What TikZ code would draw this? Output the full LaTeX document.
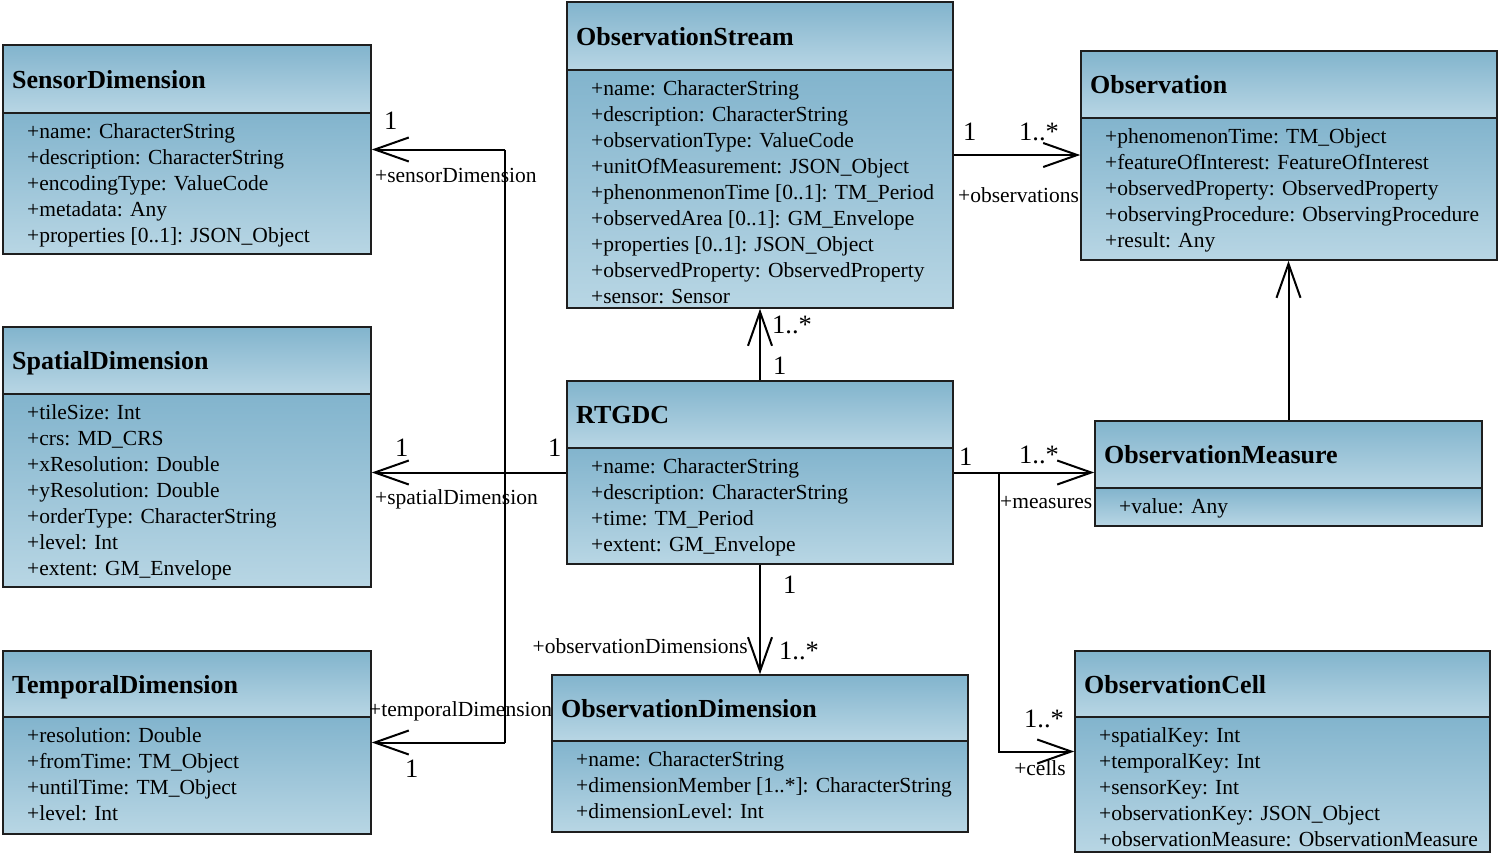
\documentclass[tikz,border=0pt]{standalone}
\usepackage{fontspec}
\setmainfont{Liberation Serif}
\usetikzlibrary{arrows.meta,fit,calc}
\definecolor{gtop}{RGB}{130,180,205}
\definecolor{gbot}{RGB}{184,214,228}
\definecolor{edge}{RGB}{30,30,30}
\tikzset{
 frame/.style={draw=edge, line width=1.6pt, inner sep=0pt},
 divline/.style={draw=edge, line width=1.6pt},
 titlefont/.style={font=\fontsize{26}{30}\selectfont\bfseries, inner sep=0pt},
 attrfont/.style={font=\fontsize{21.5}{26}\selectfont, inner sep=0pt},
 lbl/.style={font=\fontsize{21.5}{26}\selectfont, inner sep=0pt},
 mult/.style={font=\fontsize{26.5}{30}\selectfont, inner sep=0pt},
 conn/.style={line width=2pt, draw=black},
 nav/.style={conn, -{Straight Barb[length=34pt,width=24pt,line width=2pt]}},
}
\newcommand\umlclass[8]{%
  \shade[top color=gtop,bottom color=gbot] (#2,#3) rectangle (#4,#5);
  \shade[top color=gtop,bottom color=gbot] (#2,#5) rectangle (#4,#6);
  \draw[divline] (#2,#5) -- (#4,#5);
  \node[frame, fit={(#2,#3) (#4,#6)}] (#1) {};
  \pgfmathsetmacro\tbase{(#3+#5)/2+9}
  \node[titlefont, anchor=base west] (#1-title) at (#2+9,\tbase) {#7};
  \node[attrfont, anchor=base west] (#1-attrs) at (#2+24,#5+25) {\begin{tabular}[t]{@{}l@{}}#8\end{tabular}};
}
\begin{document}
\begin{tikzpicture}[x=1pt,y=-1pt]
\useasboundingbox (0,0) rectangle (1500,854);

\umlclass{sensor}{3}{45}{371}{113}{254}{SensorDimension}{%
+name: CharacterString\\+description: CharacterString\\+encodingType: ValueCode\\+metadata: Any\\+properties [0..1]: JSON\_Object}

\umlclass{spatial}{3}{327}{371}{394}{587}{SpatialDimension}{%
+tileSize: Int\\+crs: MD\_CRS\\+xResolution: Double\\+yResolution: Double\\+orderType: CharacterString\\+level: Int\\+extent: GM\_Envelope}

\umlclass{temporal}{3}{651}{371}{717}{834}{TemporalDimension}{%
+resolution: Double\\+fromTime: TM\_Object\\+untilTime: TM\_Object\\+level: Int}

\umlclass{stream}{567}{2}{953}{70}{308}{ObservationStream}{%
+name: CharacterString\\+description: CharacterString\\+observationType: ValueCode\\+unitOfMeasurement: JSON\_Object\\+phenonmenonTime [0..1]: TM\_Period\\+observedArea [0..1]: GM\_Envelope\\+properties [0..1]: JSON\_Object\\+observedProperty: ObservedProperty\\+sensor: Sensor}

\umlclass{obs}{1081}{51}{1497}{118}{260}{Observation}{%
+phenomenonTime: TM\_Object\\+featureOfInterest: FeatureOfInterest\\+observedProperty: ObservedProperty\\+observingProcedure: ObservingProcedure\\+result: Any}

\umlclass{rtgdc}{567}{381}{953}{448}{564}{RTGDC}{%
+name: CharacterString\\+description: CharacterString\\+time: TM\_Period\\+extent: GM\_Envelope}

\umlclass{measure}{1095}{421}{1482}{488}{526}{ObservationMeasure}{%
+value: Any}

\umlclass{odim}{552}{675}{968}{741}{832}{ObservationDimension}{%
+name: CharacterString\\+dimensionMember [1..*]: CharacterString\\+dimensionLevel: Int}

\umlclass{cell}{1075}{651}{1490}{717}{852}{ObservationCell}{%
+spatialKey: Int\\+temporalKey: Int\\+sensorKey: Int\\+observationKey: JSON\_Object\\+observationMeasure: ObservationMeasure}

% bus coordinates
\coordinate (bx) at (505,0);
\coordinate (bx2) at (999,0);

% RTGDC -> dimensions (left side)
\draw[nav] (rtgdc.west) -- (rtgdc.west -| spatial.east);
\draw[conn] (sensor.east -| bx) -- (temporal.east -| bx);
\draw[nav] (sensor.east -| bx) -- (sensor.east);
\draw[nav] (temporal.east -| bx) -- (temporal.east);

% RTGDC -> ObservationStream
\draw[nav] (rtgdc.north) -- (stream.south);
% ObservationStream -> Observation
\draw[nav] (stream.east) -- (stream.east -| obs.west);
% RTGDC -> ObservationMeasure
\draw[nav] (rtgdc.east) -- (rtgdc.east -| measure.west);
% RTGDC -> ObservationCell
\draw[nav] (rtgdc.east -| bx2) -- (cell.west -| bx2) -- (cell.west);
% RTGDC -> ObservationDimension
\draw[nav] (rtgdc.south) -- (rtgdc.south |- odim.north);
% ObservationMeasure -> Observation
\draw[nav] (measure.north) -- (measure.north |- obs.south);

% multiplicities and roles
\node[mult, anchor=base west] (m1) at (384,129) {1};
\node[lbl, anchor=base west] (r1) at (375,182) {+sensorDimension};
\node[mult, anchor=base west] (m2) at (395,456) {1};
\node[mult, anchor=base west] (m3) at (548,456) {1};
\node[lbl, anchor=base west] (r2) at (375,504) {+spatialDimension};
\node[lbl, anchor=base west] (r3) at (369,716) {+temporalDimension};
\node[mult, anchor=base west] (m4) at (405,777) {1};

\node[mult, anchor=base west] (m5) at (772,333) {1..*};
\node[mult, anchor=base west] (m6) at (773,374) {1};

\node[mult, anchor=base west] (m7) at (963,140) {1};
\node[mult, anchor=base west] (m8) at (1019,140) {1..*};
\node[lbl, anchor=base west] (r4) at (958,202) {+observations};

\node[mult, anchor=base west] (m9) at (959,465) {1};
\node[mult, anchor=base west] (m10) at (1019,463) {1..*};
\node[lbl, anchor=base west] (r5) at (1000,508) {+measures};

\node[mult, anchor=base west] (m11) at (1024,727) {1..*};
\node[lbl, anchor=base east] (r6) at (1066,775) {+cells};

\node[mult, anchor=base west] (m12) at (783,593) {1};
\node[mult, anchor=base west] (m13) at (779,659) {1..*};
\node[lbl, anchor=base east] (r7) at (748,653) {+observationDimensions};
\end{tikzpicture}
\end{document}
